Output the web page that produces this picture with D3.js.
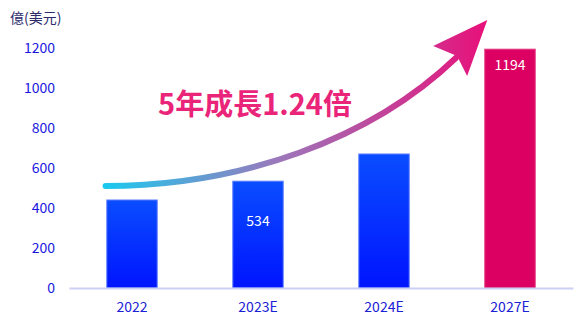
<!DOCTYPE html>
<html>
<head>
<meta charset="utf-8">
<script src="https://cdn.jsdelivr.net/npm/d3@7"></script>
<style>
  html, body { margin: 0; padding: 0; background: #ffffff; }
  svg { display: block; font-family: "Noto Sans CJK TC", "Noto Sans", sans-serif; }
</style>
</head>
<body>
<svg id="chart" width="580" height="334"></svg>
<script>
// Market size, hundred-million USD
const categories = ["2022", "2023E", "2024E", "2027E"];
const values = [440, 534, 670, 1194];
const valueLabels = ["", "534", "", "1194"];
const yTicks = [0, 200, 400, 600, 800, 1000, 1200];
const unitLabel = "億(美元)";
const growthLabel = "5年成長1.24倍";

// Trend arrow: cubic Bezier start, two control points, end, as [category offset, value]
const trendIdx = [-0.21, 0.86, 1.89, 2.57];
const trendVal = [510, 510, 740, 1150];
// Arrowhead: tip, left wing, notch, lower wing
const headIdx = [2.82, 2.39, 2.58, 2.66];
const headVal = [1340, 1210, 1160, 1060];

const svg = d3.select("#chart");
const W = 580, H = 334;
const margin = { left: 69, right: 7, top: 48, bottom: 46 };

const x = d3.scaleBand()
  .domain(categories)
  .range([margin.left, W - margin.right])
  .paddingInner(0.6)
  .paddingOuter(0.3);

const y = d3.scaleLinear()
  .domain([0, 1200])
  .range([H - margin.bottom, margin.top]);

const xc = i => x(categories[0]) + x.bandwidth() / 2 + i * x.step();

const defs = svg.append("defs");
const barGrad = defs.append("linearGradient")
  .attr("id", "barGrad").attr("x1", 0).attr("y1", 0).attr("x2", 0).attr("y2", 1);
barGrad.append("stop").attr("offset", "0%").attr("stop-color", "#0a4dff");
barGrad.append("stop").attr("offset", "100%").attr("stop-color", "#0014ff");

const arrowGrad = defs.append("linearGradient")
  .attr("id", "arrowGrad")
  .attr("gradientUnits", "userSpaceOnUse")
  .attr("x1", xc(trendIdx[0])).attr("y1", 0)
  .attr("x2", xc(headIdx[0])).attr("y2", 0);
arrowGrad.append("stop").attr("offset", "0%").attr("stop-color", "#1cc9ee");
arrowGrad.append("stop").attr("offset", "45%").attr("stop-color", "#9b78bb");
arrowGrad.append("stop").attr("offset", "100%").attr("stop-color", "#e8107a");

// Unit label
svg.append("text")
  .attr("x", 10).attr("y", 23)
  .attr("font-size", 14)
  .attr("fill", "#2b2b6b")
  .text(unitLabel);

// Y axis tick labels
const yAxis = d3.axisLeft(y).tickValues(yTicks).tickFormat(d3.format("d")).tickSize(0).tickPadding(14);
const yG = svg.append("g")
  .attr("transform", `translate(${margin.left},0)`)
  .call(yAxis);
yG.select(".domain").remove();
yG.selectAll("text")
  .attr("font-size", 14)
  .attr("font-family", "\"Noto Sans CJK TC\", sans-serif")
  .attr("fill", "#1717e0");

// Bars
svg.append("g").selectAll("rect")
  .data(values)
  .join("rect")
  .attr("x", (d, i) => x(categories[i]))
  .attr("y", d => y(d))
  .attr("width", x.bandwidth())
  .attr("height", d => y(0) - y(d))
  .attr("fill", (d, i) => i === values.length - 1 ? "#dc0062" : "url(#barGrad)")
  .attr("stroke", (d, i) => i === values.length - 1 ? "#e3367f" : "#5a7dff")
  .attr("stroke-width", 1);

// Baseline
const xAxis = d3.axisBottom(x).tickSize(0).tickPadding(14);
const xG = svg.append("g")
  .attr("transform", `translate(0,${y(0)})`)
  .call(xAxis);
xG.select(".domain")
  .attr("stroke", "#ccd0f4")
  .attr("stroke-width", 2);
xG.selectAll("text")
  .attr("font-size", 14)
  .attr("font-family", "\"Noto Sans CJK TC\", sans-serif")
  .attr("fill", "#1a22d6");

// Value labels inside bars
svg.append("g").selectAll("text")
  .data(values)
  .join("text")
  .attr("x", (d, i) => x(categories[i]) + x.bandwidth() / 2)
  .attr("y", (d, i) => i === values.length - 1 ? y(d) + 21 : (y(d) + y(0)) / 2 - 9)
  .attr("text-anchor", "middle")
  .attr("font-size", 14)
  .attr("fill", "#ffffff")
  .text((d, i) => valueLabels[i]);

// Trend arrow
const pts = trendIdx.map((t, i) => [xc(t), y(trendVal[i])]);
const arrowPath = d3.path();
arrowPath.moveTo(pts[0][0], pts[0][1]);
arrowPath.bezierCurveTo(pts[1][0], pts[1][1], pts[2][0], pts[2][1], pts[3][0], pts[3][1]);
svg.append("path")
  .attr("d", arrowPath.toString())
  .attr("fill", "none")
  .attr("stroke", "url(#arrowGrad)")
  .attr("stroke-width", 6)
  .attr("stroke-linecap", "round");

const head = headIdx.map((t, i) => [xc(t), y(headVal[i])]);
svg.append("polygon")
  .attr("points", head.map(p => p.join(",")).join(" "))
  .attr("fill", "url(#arrowGrad)");

// Growth annotation
svg.append("text")
  .attr("x", 255).attr("y", 115)
  .attr("text-anchor", "middle")
  .attr("font-size", 29)
  .attr("font-weight", "bold")
  .attr("fill", "#ea2478")
  .text(growthLabel);
</script>
</body>
</html>
